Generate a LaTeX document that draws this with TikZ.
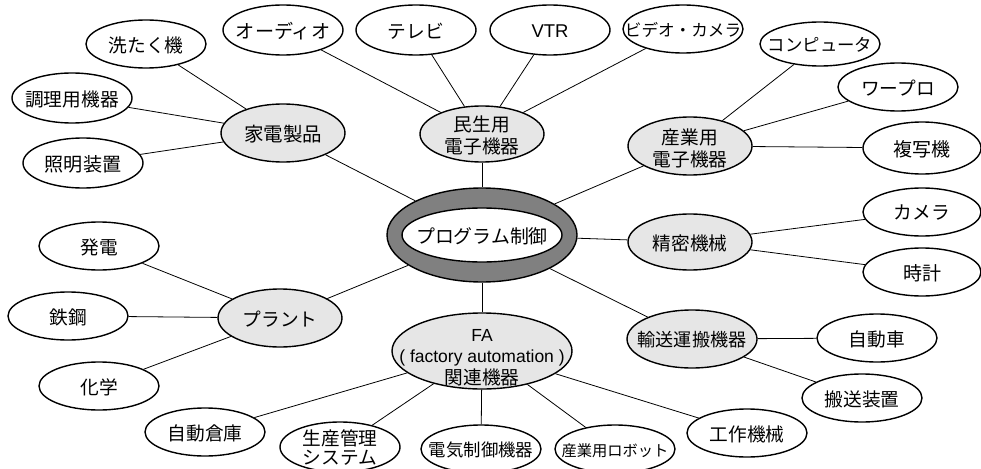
\documentclass[tikz,border=0pt]{standalone}
\usepackage{fontspec}
\usepackage{graphicx}
\setmainfont{Liberation Sans}
\newfontfamily\jp{Noto Sans CJK JP}
\newfontfamily\lat{Liberation Sans}
\usetikzlibrary{shapes.geometric}
\definecolor{hubgray}{HTML}{E6E6E6}
\definecolor{ringgray}{HTML}{808080}
\newcommand\zt[2][15.5pt]{\raisebox{0pt}[#1][0pt]{\makebox[0pt]{\begin{tabular}{@{}c@{}}#2\end{tabular}}}}
\newcommand\fs[1]{\fontsize{#1}{20.5}\selectfont}
\tikzset{
  leaf/.style={ellipse, draw=black, line width=1.4pt, fill=white, inner sep=0pt,
    minimum width=120pt, minimum height=48pt,
    font=\jp\fontsize{18.7}{20.5}\selectfont},
  hub/.style={leaf, fill=hubgray, minimum width=124pt, minimum height=58pt},
  conn/.style={line width=0.8pt, black},
}
\begin{document}
\begin{tikzpicture}[x=1pt,y=-1pt]
\useasboundingbox (0,0) rectangle (981,468);
% center ring
\node[ellipse, draw=black, line width=1.4pt, fill=ringgray, minimum width=190pt, minimum height=94pt, inner sep=0pt] (prog) at (482,235) {};
\node[leaf, minimum width=160pt, minimum height=54pt] (progin) at (482,235) {\zt{\fs{18.9}プログラム制御}};
% hubs
\node[hub] (kaden) at (283,133) {\zt{\fs{19.5}家電製品}};
\node[hub, minimum height=56pt] (minsei) at (482,134) {\zt{民生用\\電子機器}};
\node[hub] (sangyo) at (690,146) {\zt[18pt]{産業用\\電子機器}};
\node[hub, minimum height=56pt] (seimitsu) at (690,242) {\zt{精密機械}};
\node[hub, minimum width=130pt] (yuso) at (692,339) {\zt{\fs{18.1}輸送運搬機器}};
\node[hub] (plant) at (280,318) {\zt{プラント}};
\node[hub, minimum width=180pt, minimum height=76pt, font=\jp\fontsize{18.7}{21}\selectfont] (fa) at (482,351) {\zt[25pt]{{\lat\fontsize{17.5}{21}\selectfont FA}\\{\lat\fontsize{17.5}{21}\selectfont ( factory automation )}\\関連機器}};
% leaves
\node[leaf] (sentaku) at (146,44) {\zt{洗たく機}};
\node[leaf, minimum height=50pt] (chouri) at (72,98) {\zt{調理用機器}};
\node[leaf, minimum height=50pt] (shoumei) at (83,163) {\zt{\fs{19.1}照明装置}};
\node[leaf, minimum height=50pt] (audio) at (283,30) {\zt{\fs{19.1}オーディオ}};
\node[leaf, minimum height=50pt] (tv) at (416,30) {\zt{テレビ}};
\node[leaf, minimum height=50pt] (vtr) at (550,30) {\zt{\lat\fontsize{18.5}{20}\selectfont VTR}};
\node[leaf] (video) at (683,29) {\zt{\fs{16.6}ビデオ・カメラ}};
\node[leaf, minimum height=44pt] (pc) at (820,44) {\zt{\fs{17.4}コンピュータ}};
\node[leaf] (wapro) at (898,87) {\zt{ワープロ}};
\node[leaf, minimum width=118pt, minimum height=52pt] (fukusha) at (922,148) {\zt{\fs{19}複写機}};
\node[leaf, minimum width=118pt] (camera) at (922,212) {\zt{カメラ}};
\node[leaf, minimum width=118pt] (tokei) at (922,272) {\zt{\fs{19}時計}};
\node[leaf] (car) at (877,338) {\zt{自動車}};
\node[leaf] (hanso) at (862,398) {\zt{搬送装置}};
\node[leaf] (kousaku) at (747,433) {\zt{工作機械}};
\node[leaf] (robot) at (615,449) {\zt{\resizebox{107pt}{!}{\fs{15.6}産業用ロボット}}};
\node[leaf] (denki) at (481,449) {\zt{\fs{17.4}電気制御機器}};
\node[leaf, minimum height=50pt, font=\jp\fontsize{18.7}{17}\selectfont] (seisan) at (340,447) {\zt[14pt]{生産管理\\システム}};
\node[leaf] (souko) at (205,432) {\zt{自動倉庫}};
\node[leaf] (hatsuden) at (99,246) {\zt{発電}};
\node[leaf] (tekko) at (68,316) {\zt{鉄鋼}};
\node[leaf] (kagaku) at (99,386) {\zt{化学}};
% connectors
\draw[conn] (kaden) -- (prog);
\draw[conn] (minsei) -- (prog);
\draw[conn] (sangyo) -- (prog);
\draw[conn] (seimitsu) -- (prog);
\draw[conn] (yuso) -- (prog);
\draw[conn] (plant) -- (prog);
\draw[conn] (fa) -- (prog);
\draw[conn] (kaden) -- (sentaku);
\draw[conn] (kaden) -- (chouri);
\draw[conn] (kaden) -- (shoumei);
\draw[conn] (minsei) -- (audio);
\draw[conn] (minsei) -- (tv);
\draw[conn] (minsei) -- (vtr);
\draw[conn] (minsei) -- (video);
\draw[conn] (sangyo) -- (pc);
\draw[conn] (sangyo) -- (wapro);
\draw[conn] (sangyo) -- (fukusha);
\draw[conn] (seimitsu) -- (camera);
\draw[conn] (seimitsu) -- (tokei);
\draw[conn] (yuso) -- (car);
\draw[conn] (yuso) -- (hanso);
\draw[conn] (plant) -- (hatsuden);
\draw[conn] (plant) -- (tekko);
\draw[conn] (plant) -- (kagaku);
\draw[conn] (fa) -- (souko);
\draw[conn] (fa) -- (seisan);
\draw[conn] (fa) -- (denki);
\draw[conn] (fa) -- (robot);
\draw[conn] (fa) -- (kousaku);
\end{tikzpicture}
\end{document}
